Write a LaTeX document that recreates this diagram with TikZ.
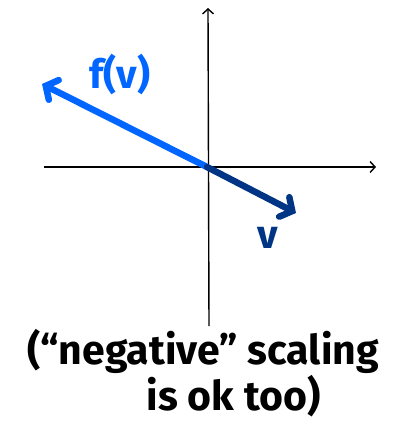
\documentclass[tikz,border=0pt]{standalone}
\usepackage{fontspec}
\setmainfont{Fira Sans}
\usetikzlibrary{positioning, arrows.meta}
\definecolor{fblue}{HTML}{0066FF}
\definecolor{vblue}{HTML}{003586}

\begin{document}
\begin{tikzpicture}[x=1pt, y=-1pt,
    axis/.style={line width=1.4pt, -{Straight Barb[length=5pt, width=11pt]}},
    vec/.style={line width=6.5pt, line cap=round, -{Straight Barb[length=9pt, width=22pt, line cap=round]}},
    lbl/.style={font=\fontsize{40}{40}\selectfont\bfseries}]
    \useasboundingbox (0,0) rectangle (403,423);
    % axes
    \coordinate (o) at (207,167);
    \coordinate (xl) at (44,167);
    \coordinate (xr) at (376,167);
    \coordinate (yb) at (209,326);
    \coordinate (yt) at (208,8);
    \draw[axis] (xl) -- (xr);
    \draw[axis] (yb) -- (yt);
    % vectors
    \coordinate (ftip) at (42,84);
    \coordinate (vtip) at (296,213);
    \draw[vec, fblue] (o) -- (ftip);
    \draw[vec, vblue] (o) -- (vtip);
    \node[lbl, text=fblue] (flbl) at (120,74) {f(v)};
    \node[lbl, text=vblue] (vlbl) at (268,238) {v};
    % caption
    \node[lbl, align=center, font=\fontsize{41}{43}\selectfont\bfseries] (cap) at (203,373)
        {(``negative'' scaling\\ \hspace*{1.5em}is ok too)};
\end{tikzpicture}
\end{document}
